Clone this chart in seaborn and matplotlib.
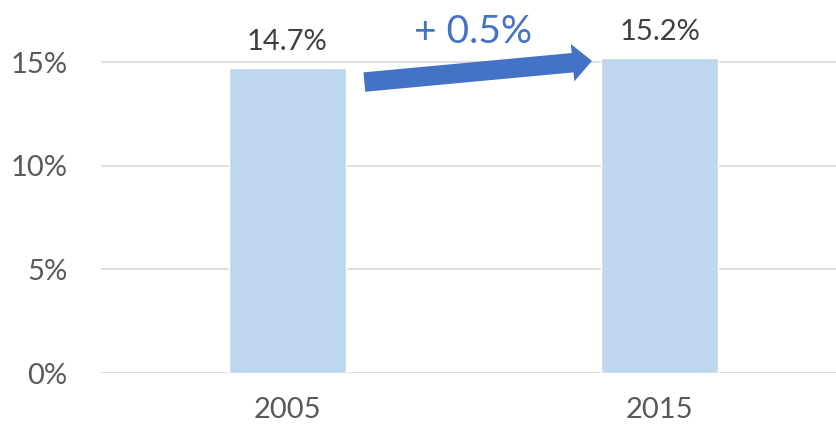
import matplotlib
matplotlib.use("Agg")
import matplotlib.pyplot as plt
import matplotlib.ticker as mtick
from matplotlib.patches import FancyArrowPatch, ArrowStyle
import seaborn as sns
import pandas as pd

# data
years = ["2005", "2015"]
shares = [14.7, 15.2]
change_label = "+ 0.5%"
y_ticks = [0, 5, 10, 15]

# farver
bar_color = "#BDD7EE"
arrow_color = "#4472C4"
grid_color = "#D9D9D9"
tick_color = "#595959"
label_color = "#404040"

df = pd.DataFrame({"year": years, "share": shares})

sns.set_theme(style="white")
plt.rcParams["font.family"] = ["Lato", "DejaVu Sans"]

fig = plt.figure(figsize=(8.36, 4.29), dpi=100)
ax = fig.add_axes([101 / 836, 56 / 429, 735 / 836, 373 / 429])

bar_width = 0.314
sns.barplot(data=df, x="year", y="share", color=bar_color, width=bar_width,
            saturation=1, ax=ax)

ax.set_xlim(-0.5, -0.5 + 735 / 372.5)
ax.set_ylim(0, 18)
ax.set_yticks(y_ticks)
ax.yaxis.set_major_formatter(mtick.FuncFormatter(lambda v, p: f"{v:.0f}%"))
ax.set_xlabel("")
ax.set_ylabel("")

# gitterlinjer
ax.set_axisbelow(True)
ax.yaxis.grid(True, color=grid_color, linewidth=1.2)
ax.xaxis.grid(False)
for spine in ax.spines.values():
    spine.set_visible(False)

ax.tick_params(axis="y", length=0, pad=24, labelsize=21, labelcolor=tick_color)
ax.tick_params(axis="x", length=0, pad=17, labelsize=21, labelcolor=tick_color)

# værdier over søjlerne
for i, v in enumerate(shares):
    ax.annotate(f"{v:.1f}%", (i, v), xytext=(0, 13), textcoords="offset points",
                ha="center", va="baseline", fontsize=21, color=label_color)

# pil mellem søjlerne
x0 = 0 + bar_width / 2 + 0.05
x1 = 1 - bar_width / 2 - 0.025
arrow = FancyArrowPatch((x0, shares[0] - 0.66), (x1, shares[1] - 0.14),
                        arrowstyle=ArrowStyle.Simple(head_length=14, head_width=27, tail_width=14),
                        mutation_scale=1, color=arrow_color, shrinkA=0, shrinkB=0,
                        linewidth=0)
ax.add_patch(arrow)

ax.text(0.5, shares[1] + 1.25, change_label, ha="center", va="center",
        fontsize=28, color=arrow_color)

fig.savefig("out.png", dpi=100)
